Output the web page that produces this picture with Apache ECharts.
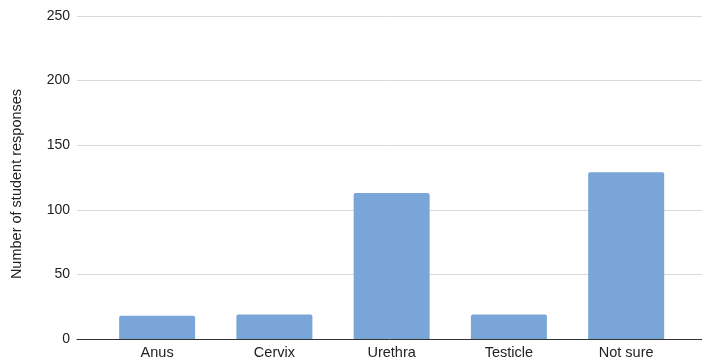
<!DOCTYPE html>
<html>
<head>
<meta charset="utf-8">
<script src="https://cdn.jsdelivr.net/npm/echarts@6/dist/echarts.min.js"></script>
<style>
  html, body { margin: 0; padding: 0; background: #fff; }
  #chart { width: 702px; height: 360px; }
</style>
</head>
<body>
<div id="chart"></div>
<script>
// Which structure students named for the answer
const categories = ['Anus', 'Cervix', 'Urethra', 'Testicle', 'Not sure'];
const responses = [18, 19, 113, 19, 129];
const yTicks = { min: 0, max: 250, interval: 50 };
const yTitle = 'Number of student responses';

const FONT = '"Liberation Sans", Arial, Helvetica, sans-serif';
const chart = echarts.init(document.getElementById('chart'), null, { renderer: 'canvas' });

chart.setOption({
  animation: false,
  backgroundColor: '#ffffff',
  textStyle: { fontFamily: FONT },
  graphic: [
    {
      type: 'text', x: 17, y: 184, rotation: Math.PI / 2,
      style: {
        text: yTitle, fill: '#222222', fontSize: 14.5, fontFamily: FONT,
        textAlign: 'center', textVerticalAlign: 'middle'
      }
    }
  ],
  grid: [
    // full-width plot frame: gridlines and baseline
    { left: 77, right: 0, top: 16, bottom: 21 },
    // category band for the bars
    { left: 98.5, right: 17.2, top: 16, bottom: 21 }
  ],
  xAxis: [
    {
      type: 'value', gridIndex: 0, min: 0, max: 1, z: 5,
      axisLine: { show: true, lineStyle: { color: '#333333', width: 1 } },
      axisTick: { show: false }, axisLabel: { show: false }, splitLine: { show: false }
    },
    {
      type: 'category', gridIndex: 1, data: categories,
      axisLine: { show: false }, axisTick: { show: false },
      axisLabel: { color: '#222222', fontSize: 14.5, margin: 6, fontFamily: FONT }
    }
  ],
  yAxis: [
    {
      type: 'value', gridIndex: 0,
      min: yTicks.min, max: yTicks.max, interval: yTicks.interval,
      axisLine: { show: false }, axisTick: { show: false },
      axisLabel: { color: '#222222', fontSize: 14, margin: 7, fontFamily: FONT },
      splitLine: { show: true, lineStyle: { color: '#d9d9d9', width: 1 } }
    },
    {
      type: 'value', gridIndex: 1, show: false,
      min: yTicks.min, max: yTicks.max, interval: yTicks.interval,
      splitLine: { show: false }
    }
  ],
  series: [
    {
      type: 'bar', xAxisIndex: 1, yAxisIndex: 1,
      data: responses, barWidth: 76,
      itemStyle: { color: '#79a5d8', borderRadius: [2, 2, 0, 0] }
    }
  ]
});
</script>
</body>
</html>
